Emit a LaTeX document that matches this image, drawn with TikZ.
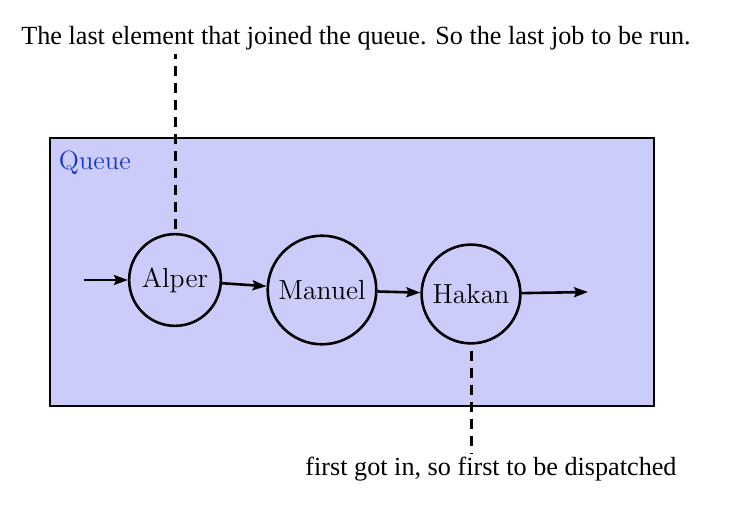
\documentclass[tikz,border=0pt]{standalone}
\usepackage{fontspec}
\usetikzlibrary{arrows.meta}
\newfontfamily\notefont{Liberation Serif}
\definecolor{queuefill}{RGB}{204,204,250}
\definecolor{queueblue}{RGB}{20,55,205}
\begin{document}
\begin{tikzpicture}[x=0.5pt,y=-0.5pt,line width=1.3pt,
    person/.style={draw,circle,inner sep=4pt,font=\fontsize{13.8}{16}\selectfont},
    note/.style={anchor=base,inner sep=1pt,font=\notefont\fontsize{13.1}{15}\selectfont},
    pointer/.style={line width=1.5pt,dash pattern=on 5pt off 3.5pt},
    >={Stealth[length=7pt,width=5pt,inset=1.2pt]}]
  \useasboundingbox (0,0) rectangle (730,530);
  \draw[fill=queuefill] (50,138) rectangle (654,406);
  \node[anchor=west,text=queueblue,font=\fontsize{13.2}{15}\selectfont] (qlabel) at (51,163) {Queue};
  % the people waiting
  \node[person] (alper) at (175,280) {Alper};
  \node[person] (manuel) at (322,290) {Manuel};
  \node[person] (hakan) at (471,294) {Hakan};
  \coordinate (in) at (84,280);
  \coordinate (out) at (588,292);
  \draw[->] (in) -- (alper);
  \draw[->] (alper) -- (manuel);
  \draw[->] (manuel) -- (hakan);
  \draw[->] (hakan) -- (out);
  % notes
  \node[note] (last) at (356,45) {The last element that joined the queue. So the last job to be run.};
  \node[note] (first) at (491,475) {first got in, so first to be dispatched};
  \draw[pointer] ([yshift=2pt]alper.north) -- (alper |- last.south);
  \draw[pointer] ([yshift=-3pt]hakan.south) -- (hakan |- first.north);
\end{tikzpicture}
\end{document}
